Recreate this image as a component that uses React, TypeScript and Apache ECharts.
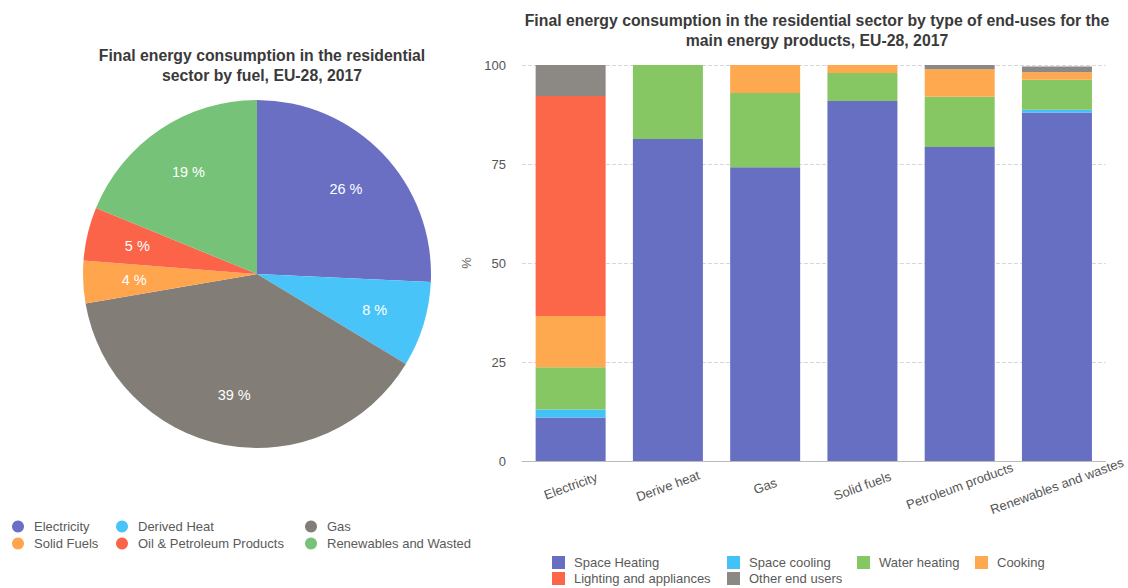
import React, { useEffect, useRef } from "react";
import * as echarts from "echarts";

const pieNames = ["Electricity", "Derived Heat", "Gas", "Solid Fuels", "Oil & Petroleum Products", "Renewables and Wasted"];
const pieValues = [26, 8, 39, 4, 5, 19];
const pieColors = ["#6a6fc4", "#48c4f8", "#837d77", "#ffa54e", "#fb6448", "#76c279"];

const categories = ["Electricity", "Derive heat", "Gas", "Solid fuels", "Petroleum products", "Renewables and wastes"];
const barSeriesNames = ["Space Heating", "Space cooling", "Water heating", "Cooking", "Lighting and appliances", "Other end users"];
const spaceHeating = [11, 81.3, 74.2, 90.9, 79.3, 88];
const spaceCooling = [2, 0, 0, 0, 0, 0.7];
const waterHeating = [10.7, 18.7, 18.7, 7.1, 12.7, 7.6];
const cooking = [12.9, 0, 7.1, 2, 6.9, 1.9];
const lighting = [55.6, 0, 0, 0, 0, 0];
const otherUses = [7.8, 0, 0, 0, 1.1, 1.4];
const barColors = ["#676fc2", "#42c2f7", "#86c663", "#fea94f", "#fc6649", "#8c8884"];
const yTicks = [0, 25, 50, 75, 100];

const FONT = "'Liberation Sans', Arial, Helvetica, sans-serif";

export default function App() {
  const ref = useRef<HTMLDivElement>(null);
  useEffect(() => {
    if (!ref.current) return;
    const chart = echarts.init(ref.current, undefined, { renderer: "svg" });
    const barData = [spaceHeating, spaceCooling, waterHeating, cooking, lighting, otherUses];
    const pieLegendStyle = {
      orient: "vertical" as const,
      top: 520,
      padding: 0,
      icon: "circle",
      itemWidth: 12,
      itemHeight: 12,
      itemGap: 4,
      selectedMode: false,
      textStyle: { color: "#5a5a5a", fontSize: 13, fontFamily: FONT, padding: [0, 0, 0, 5] },
    };
    const barLegendStyle = {
      orient: "vertical" as const,
      top: 556,
      padding: 0,
      icon: "rect",
      itemWidth: 13,
      itemHeight: 13,
      itemGap: 3,
      selectedMode: false,
      textStyle: { color: "#5a5a5a", fontSize: 13, fontFamily: FONT, padding: [0, 0, 0, 4] },
    };
    const legendItem = (n: string, c: string) => ({ name: n, itemStyle: { color: c } });
    chart.setOption({
      animation: false,
      backgroundColor: "#fff",
      textStyle: { fontFamily: FONT },
      title: [
        {
          text: "Final energy consumption in the residential\nsector by fuel, EU-28, 2017",
          left: 257,
          top: 40,
          textAlign: "center",
          textStyle: { fontSize: 15.8, fontWeight: "bold", color: "#3a3a3a", lineHeight: 20, fontFamily: FONT },
        },
        {
          text: "Final energy consumption in the residential sector by type of end-uses for the\nmain energy products, EU-28, 2017",
          left: 812,
          top: 5,
          textAlign: "center",
          textStyle: { fontSize: 15.8, fontWeight: "bold", color: "#3a3a3a", lineHeight: 20, fontFamily: FONT },
        },
      ],
      legend: [
        { ...pieLegendStyle, left: 12, data: [legendItem(pieNames[0], pieColors[0]), legendItem(pieNames[3], pieColors[3])] },
        { ...pieLegendStyle, left: 116, data: [legendItem(pieNames[1], pieColors[1]), legendItem(pieNames[4], pieColors[4])] },
        { ...pieLegendStyle, left: 305, data: [legendItem(pieNames[2], pieColors[2]), legendItem(pieNames[5], pieColors[5])] },
        { ...barLegendStyle, left: 552, data: [legendItem(barSeriesNames[0], barColors[0]), legendItem(barSeriesNames[4], barColors[4])] },
        { ...barLegendStyle, left: 727, data: [legendItem(barSeriesNames[1], barColors[1]), legendItem(barSeriesNames[5], barColors[5])] },
        { ...barLegendStyle, left: 857, data: [legendItem(barSeriesNames[2], barColors[2])] },
        { ...barLegendStyle, left: 975, data: [legendItem(barSeriesNames[3], barColors[3])] },
      ],
      grid: { left: 522, right: 20, top: 65, bottom: 588 - 461 },
      xAxis: {
        type: "category",
        data: categories,
        axisLine: { lineStyle: { color: "#bbb" } },
        axisTick: { show: false },
        axisLabel: {
          rotate: 20,
          align: "center",
          verticalAlign: "middle",
          margin: 25,
          color: "#555",
          fontSize: 13,
          fontFamily: FONT,
        },
      },
      yAxis: {
        type: "value",
        min: yTicks[0],
        max: yTicks[yTicks.length - 1],
        interval: 25,
        name: "%",
        nameLocation: "middle",
        nameGap: 48,
        nameTextStyle: { color: "#666", fontSize: 13, fontFamily: FONT },
        axisLine: { show: false },
        axisTick: { show: false },
        axisLabel: { color: "#555", fontSize: 13, margin: 16, fontFamily: FONT },
        splitLine: { lineStyle: { color: "#d8d8d8", type: "dashed" } },
      },
      series: [
        {
          type: "pie",
          name: "fuel",
          center: [257, 274],
          radius: 174,
          startAngle: 90,
          clockwise: true,
          silent: true,
          label: { show: false },
          labelLine: { show: false },
          data: pieNames.map((n, i) => ({ name: n, value: pieValues[i], itemStyle: { color: pieColors[i] } })),
        },
        {
          type: "pie",
          name: "fuelLabels",
          center: [257, 274],
          radius: [66, 174],
          startAngle: 90,
          clockwise: true,
          silent: true,
          itemStyle: { color: "rgba(0,0,0,0)" },
          label: {
            show: true,
            position: "inside",
            formatter: "{c} %",
            color: "#fff",
            fontSize: 14.5,
            fontFamily: FONT,
          },
          labelLine: { show: false },
          data: pieNames.map((n, i) => ({ name: n, value: pieValues[i] })),
        },
        ...barSeriesNames.map((n, i) => ({
          type: "bar",
          name: n,
          stack: "total",
          barWidth: 70,
          itemStyle: { color: barColors[i] },
          data: barData[i],
        })),
      ],
    });
    return () => chart.dispose();
  }, []);
  return <div ref={ref} style={{ position: "fixed", left: 0, top: 0, width: 1128, height: 588 }} />;
}
